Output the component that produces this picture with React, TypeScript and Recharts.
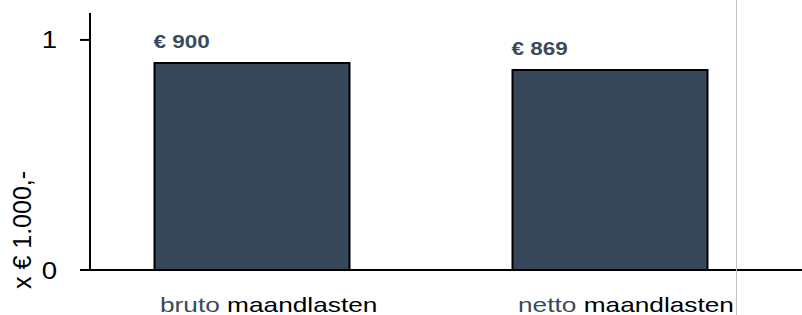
import { Bar, BarChart, LabelList, XAxis, YAxis } from "recharts";

const prefixes = ["bruto", "netto"];
const suffix = "maandlasten";
const values = [0.9, 0.869];
const valueLabels = ["€ 900", "€ 869"];
const yTicks = [0, 1];
const yLabel = "x € 1.000,-";

const data = prefixes.map((p, i) => ({
  name: p,
  value: values[i],
  label: valueLabels[i],
}));

const FONT = "'Liberation Sans', Arial, sans-serif";
const SLATE = "#3a4a5e";

function CategoryTick(props: any) {
  const { x, y, payload } = props;
  return (
    <text
      transform={`translate(${x - 91.5} ${y + 42}) scale(1.25 1)`}
      fontFamily={FONT}
      fontSize={21}
      textAnchor="start"
    >
      <tspan fill={SLATE}>{payload.value}</tspan>
      <tspan fill="#000"> {suffix}</tspan>
    </text>
  );
}

function ValueTick(props: any) {
  const { x, y, payload } = props;
  return (
    <text
      transform={`translate(${x - 23} ${y + 8.5}) scale(1.2 1)`}
      fontFamily={FONT}
      fontSize={23}
      fill="#000"
      textAnchor="end"
    >
      {payload.value}
    </text>
  );
}

function AxisTitle(props: any) {
  const { viewBox } = props;
  const cx = viewBox.x + 31;
  const cy = viewBox.y + viewBox.height - 40;
  return (
    <text
      transform={`translate(${cx} ${cy}) rotate(-90)`}
      fontFamily={FONT}
      fontSize={25}
      fill="#000"
      textAnchor="middle"
    >
      {yLabel}
    </text>
  );
}

function BarLabel(props: any) {
  const { x, y, index } = props;
  return (
    <text
      transform={`translate(${x - 1} ${y - 15}) scale(1.25 1)`}
      fontFamily={FONT}
      fontSize={18}
      fontWeight="bold"
      fill={SLATE}
    >
      {data[index].label}
    </text>
  );
}

export default function App() {
  return (
    <div style={{ position: "absolute", left: 0, top: 0, width: 802, height: 315, background: "#fff" }}>
      <BarChart
        width={802}
        height={315}
        data={data}
        margin={{ top: 13, right: 0, bottom: 0, left: 0 }}
        barSize={195}
      >
        <XAxis
          dataKey="name"
          height={45}
          axisLine={{ stroke: "#000", strokeWidth: 2 }}
          tickLine={false}
          tickSize={0}
          tickMargin={0}
          padding={{ left: -17.5, right: 13.5 }}
          tick={<CategoryTick />}
          interval={0}
        />
        <YAxis
          width={90}
          domain={[0, 1.117]}
          ticks={yTicks}
          allowDataOverflow
          axisLine={{ stroke: "#000", strokeWidth: 2 }}
          tickLine={{ stroke: "#000", strokeWidth: 2 }}
          tickSize={10}
          tickMargin={0}
          tick={<ValueTick />}
          label={{ content: AxisTitle }}
        />
        <Bar dataKey="value" fill="#37475a" stroke="#000" strokeWidth={2} isAnimationActive={false}>
          <LabelList dataKey="label" content={BarLabel} />
        </Bar>
      </BarChart>
      <div
        style={{
          position: "absolute",
          left: 736,
          top: 0,
          width: 1,
          height: 315,
          background: "#c4c4c4",
        }}
      />
    </div>
  );
}
